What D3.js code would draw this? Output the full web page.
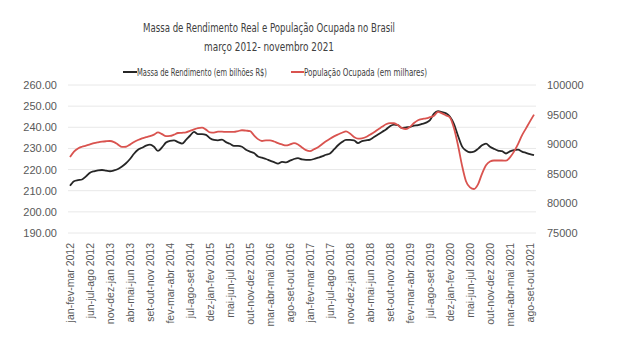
<!DOCTYPE html>
<html><head><meta charset="utf-8">
<script src="https://cdn.jsdelivr.net/npm/d3@7"></script>
<style>
body{margin:0;background:#fff;}
svg{display:block;font-family:"Liberation Sans Narrow","DejaVu Sans Condensed","Roboto",sans-serif;}
</style></head>
<body><svg id="c" width="632" height="340"></svg>
<script>
const monthNames = ["jan","fev","mar","abr","mai","jun","jul","ago","set","out","nov","dez"];
const startYear = 2012, startMonth = 2; // end month of first rolling quarter (março 2012)
const nPeriods = 117;
const categories = [];
for (let k = 0; k < nPeriods; k++) {
  const t = startYear * 12 + startMonth + k;
  const y = Math.floor(t / 12), m = t % 12;
  const q = [m - 2, m - 1, m].map(v => monthNames[(v + 12) % 12]).join("-");
  categories.push(q + " " + y);
}
const massa = [212.3,214.5,215.0,215.3,216.8,218.5,219.2,219.6,219.8,219.5,
219.2,219.6,220.3,221.5,223.0,225.0,227.5,229.4,230.3,231.3,
231.8,230.8,228.8,230.5,232.8,233.6,233.8,233.0,232.3,234.0,
236.0,237.8,236.8,236.8,236.4,234.8,234.0,233.8,234.2,233.0,
232.2,231.2,231.2,230.8,229.4,228.5,227.8,226.2,225.6,225.0,
224.2,223.5,222.8,223.6,223.4,224.2,225.0,225.4,224.8,224.6,
224.6,225.0,225.6,226.2,227.0,227.6,229.5,231.5,233.0,234.0,
234.0,233.8,232.5,233.5,233.8,234.2,235.4,236.6,237.8,239.0,
240.5,241.3,241.0,239.6,240.0,240.2,240.8,241.0,241.6,242.2,
243.4,246.5,247.6,247.2,246.6,245.0,241.5,236.0,231.0,229.0,
228.2,228.5,229.8,231.5,232.3,230.8,229.8,229.0,228.7,227.6,
228.6,229.2,229.4,228.5,227.9,227.3,226.8];
const populacao = [87820,88750,89290,89570,89750,89960,90180,90320,90430,90500,
90540,90360,89930,89540,89570,89930,90360,90710,91000,91180,
91360,91610,92000,91710,91360,91390,91610,91890,91930,92000,
92250,92500,92710,92790,92460,92000,91960,92110,92110,92070,
92070,92070,92210,92360,92290,92210,91500,90860,90540,90640,
90640,90460,90180,89960,89790,89960,90180,89960,89460,89000,
88820,89140,89500,90000,90500,90930,91320,91640,91930,92180,
91790,91210,90930,91000,91210,91610,92000,92500,92930,93360,
93570,93540,93210,92710,92570,92930,93570,94040,94250,94360,
94570,94820,95460,95210,94860,94500,92680,89820,86430,83750,
82710,82430,83210,85000,86430,87070,87250,87250,87250,87210,
87790,88750,90000,91500,92680,93860,95000];
const leftTicks = [190,200,210,220,230,240,250,260];
const rightTicks = [75000,80000,85000,90000,95000,100000];
const titleLines = ["Massa de Rendimento Real e População Ocupada no Brasil","março 2012- novembro 2021"];
const seriesNames = ["Massa de Rendimento (em bilhões R$)","População Ocupada (em milhares)"];
const colors = ["#262626","#d9534f"];

const svg = d3.select("#c");
const L = 68, R = 536, T = 85, B = 233;
const x = d3.scaleBand().domain(d3.range(nPeriods)).range([L, R]);
const xc = i => x(i) + x.bandwidth() / 2;
const yL = d3.scaleLinear().domain([190, 260]).range([B, T]);
const yR = d3.scaleLinear().domain([75000, 100000]).range([B, T]);

// title
const titleW = [252, 130];
svg.selectAll("text.title").data(titleLines).join("text")
  .attr("class","title").attr("x", 269).attr("y", (d,i) => 32 + i*19)
  .attr("text-anchor","middle").attr("font-size", 12.5).attr("fill","#404040")
  .attr("textLength", (d,i) => titleW[i]).attr("lengthAdjust","spacingAndGlyphs").text(d => d);

// grid
svg.append("g").selectAll("line").data(leftTicks).join("line")
  .attr("x1", L).attr("x2", R).attr("y1", d => yL(d)).attr("y2", d => yL(d))
  .attr("stroke", "#e8e8e8").attr("stroke-width", 1);

// left axis
const gl = svg.append("g").attr("transform", `translate(${L},0)`)
  .call(d3.axisLeft(yL).tickValues(leftTicks).tickFormat(d3.format(".2f")).tickSize(0).tickPadding(11));
gl.select(".domain").remove();
gl.selectAll("text").attr("font-size", 11).attr("fill", "#595959").attr("font-family", null);

// right axis
const gr = svg.append("g").attr("transform", `translate(${R},0)`)
  .call(d3.axisRight(yR).tickValues(rightTicks).tickFormat(d3.format("d")).tickSize(0).tickPadding(11));
gr.select(".domain").remove();
gr.selectAll("text").attr("font-size", 11).attr("fill", "#595959").attr("font-family", null);

// x axis
const tickIdx = d3.range(0, nPeriods, 5);
const gx = svg.append("g").attr("transform", `translate(0,${B})`)
  .call(d3.axisBottom(x).tickValues(tickIdx).tickFormat(i => categories[i]).tickSize(0).tickPadding(0));
gx.select(".domain").remove();
gx.selectAll("text").attr("font-size", 10.5).attr("fill", "#595959").attr("font-family", null)
  .attr("text-anchor","end").attr("transform","translate(0,10) rotate(-90)")
  .attr("x", 0).attr("y", 0).attr("dy","0.35em");

// lines
const lineM = d3.line().x((d,i) => xc(i)).y(d => yL(d)).curve(d3.curveMonotoneX);
const lineP = d3.line().x((d,i) => xc(i)).y(d => yR(d)).curve(d3.curveMonotoneX);
svg.append("path").datum(massa).attr("d", lineM).attr("fill","none").attr("stroke", colors[0]).attr("stroke-width", 1.8);
svg.append("path").datum(populacao).attr("d", lineP).attr("fill","none").attr("stroke", colors[1]).attr("stroke-width", 1.8);

// legend
const leg = [{x:123, lw:14, tw:130, name:seriesNames[0], c:colors[0]},{x:291, lw:13, tw:123, name:seriesNames[1], c:colors[1]}];
const lg = svg.append("g").selectAll("g").data(leg).join("g").attr("transform", d => `translate(${d.x},72)`);
lg.append("line").attr("x1",0).attr("x2",d => d.lw).attr("stroke", d => d.c).attr("stroke-width",2);
lg.append("text").attr("x",d => d.lw).attr("dy","0.35em").attr("font-size",10.5).attr("fill","#404040")
  .attr("textLength", d => d.tw).attr("lengthAdjust","spacingAndGlyphs").text(d => d.name);
</script></body></html>
